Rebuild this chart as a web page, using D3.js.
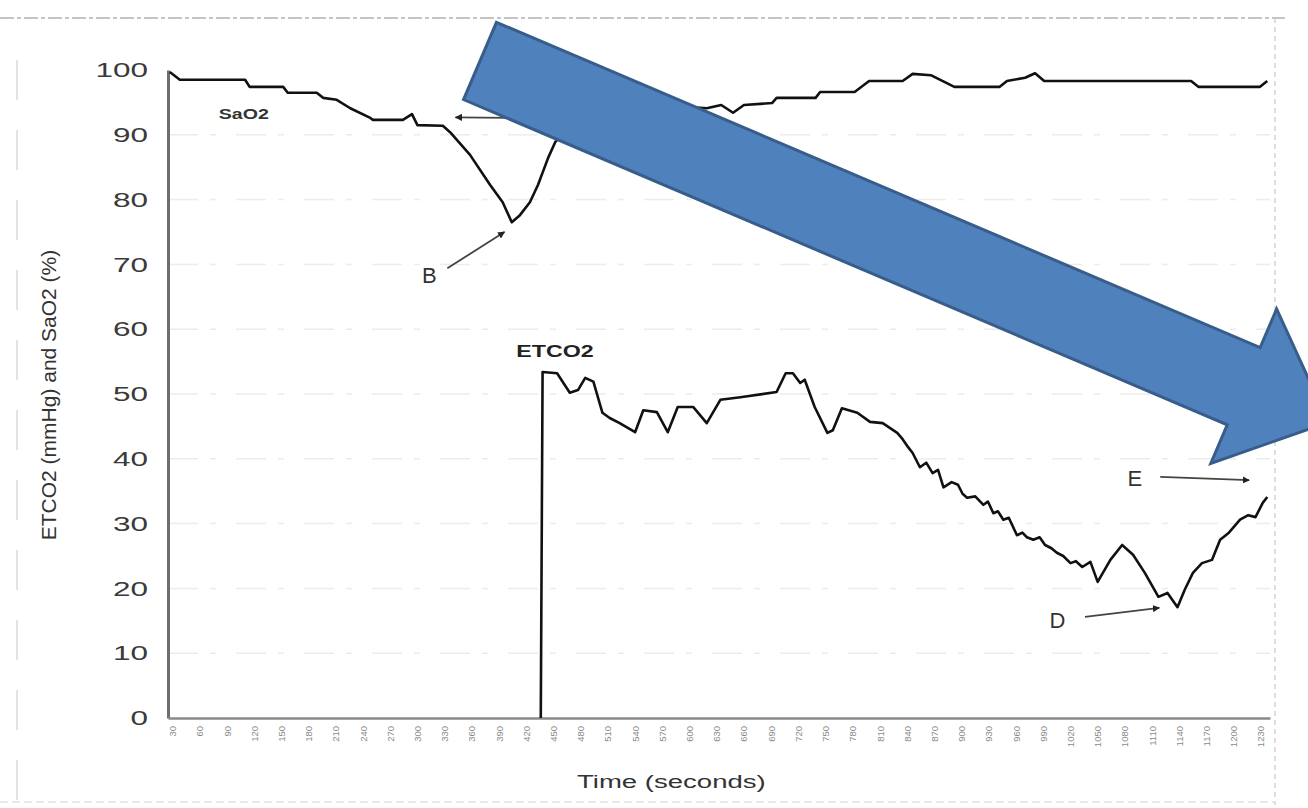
<!DOCTYPE html>
<html>
<head>
<meta charset="utf-8">
<script src="https://cdn.jsdelivr.net/npm/d3@7"></script>
<style>
  body { margin: 0; background: #ffffff; }
  svg { display: block; font-family: "Liberation Sans", Arial, sans-serif; }
</style>
</head>
<body>
<div id="chart"></div>
<script>
// time (s) on x, value on y
var saoTime = [27, 38, 110, 115, 152, 157, 189, 196, 211, 226, 248, 251, 284, 294, 300, 328, 336, 358, 380, 394, 404, 413, 424, 433, 444, 452, 463, 479, 512, 556, 600, 619, 635, 648, 660, 691, 696, 739, 744, 782, 798, 835, 846, 866, 892, 942, 950, 970, 981, 991, 1153, 1161, 1229, 1237];
var saoValue = [99.7, 98.5, 98.5, 97.4, 97.4, 96.5, 96.5, 95.7, 95.4, 94.1, 92.6, 92.3, 92.3, 93.2, 91.5, 91.4, 90.4, 86.9, 82.3, 79.6, 76.5, 77.6, 79.6, 82.3, 86.4, 88.9, 90.5, 92.5, 93.5, 94, 94.3, 94.1, 94.6, 93.4, 94.6, 94.9, 95.7, 95.7, 96.6, 96.6, 98.3, 98.3, 99.4, 99.2, 97.4, 97.4, 98.3, 98.8, 99.5, 98.3, 98.3, 97.4, 97.4, 98.3];

var etcoTime = [436, 438, 454, 468, 477, 485, 494, 504, 512, 523, 540, 549, 564, 576, 587, 604, 619, 634, 656, 696, 706, 714, 722, 727, 738, 752, 758, 768, 785, 799, 813, 829, 834, 841, 846, 854, 861, 868, 874, 880, 889, 896, 901, 906, 915, 924, 929, 935, 940, 946, 952, 961, 967, 972, 979, 986, 992, 999, 1005, 1012, 1020, 1026, 1033, 1042, 1050, 1064, 1077, 1089, 1102, 1117, 1127, 1138, 1146, 1155, 1165, 1176, 1185, 1194, 1207, 1216, 1224, 1232, 1237];
var etcoValue = [0, 53.4, 53.2, 50.2, 50.6, 52.5, 51.9, 47.1, 46.3, 45.5, 44.1, 47.5, 47.2, 44.1, 48.0, 48.0, 45.5, 49.1, 49.5, 50.3, 53.2, 53.2, 51.7, 52.2, 48.0, 44.0, 44.4, 47.8, 47.1, 45.7, 45.5, 44.0, 43.2, 41.8, 40.9, 38.7, 39.4, 37.8, 38.3, 35.6, 36.4, 36.0, 34.6, 34.0, 34.2, 32.9, 33.4, 31.6, 31.9, 30.6, 30.9, 28.2, 28.6, 27.9, 27.5, 27.9, 26.7, 26.2, 25.5, 25.0, 23.9, 24.2, 23.3, 24.1, 21.0, 24.4, 26.7, 25.2, 22.4, 18.7, 19.3, 17.1, 19.8, 22.4, 23.9, 24.4, 27.5, 28.5, 30.6, 31.3, 31.0, 33.2, 34.1];

var yTicks = [0, 10, 20, 30, 40, 50, 60, 70, 80, 90, 100];
var xTicks = [30, 60, 90, 120, 150, 180, 210, 240, 270, 300, 330, 360, 390, 420, 450, 480, 510, 540, 570, 600, 630, 660, 690, 720, 750, 780, 810, 840, 870, 900, 930, 960, 990, 1020, 1050, 1080, 1110, 1140, 1170, 1200, 1230];

// annotation letters: [label, text time, text value, arrow from time, value, arrow to time, value]
var notes = [
    ["B", 305, 67.1, 333, 69.4, 396, 75.0],
    ["D", 997, 13.9, 1036, 15.6, 1118, 17.0],
    ["E", 1083, 35.8, 1119, 37.2, 1217, 36.7],
    ["", 0, 0, 402, 92.6, 342, 92.7]
];

var margin = { top: 70, right: 38, bottom: 90, left: 168 },
    width = 1308 - margin.left - margin.right,
    height = 808 - margin.top - margin.bottom;

var x = d3.scaleLinear().domain([25, 1240]).range([0, width]);
var y = d3.scaleLinear().domain([0, 100]).range([height, 0]);

// the scanned source is stretched sideways
var stretch = 1.45;

var root = d3.select("#chart")
    .append("svg")
    .attr("width", 1308)
    .attr("height", 808);

root.append("defs").append("marker")
    .attr("id", "head")
    .attr("viewBox", "0 0 10 10")
    .attr("refX", 9)
    .attr("refY", 5)
    .attr("markerWidth", 4)
    .attr("markerHeight", 4)
    .attr("orient", "auto")
    .append("path")
    .attr("d", "M0,0 L10,5 L0,10 z")
    .attr("fill", "#222");

// faint scanned frame
root.append("line")
    .attr("x1", 0).attr("x2", 1285).attr("y1", 18).attr("y2", 18)
    .attr("stroke", "#c4c4c4").attr("stroke-width", 2)
    .attr("stroke-dasharray", "14,3,4,3");
root.append("line")
    .attr("x1", 1275).attr("x2", 1275).attr("y1", 18).attr("y2", 805)
    .attr("stroke", "#d4d4d4").attr("stroke-width", 1.5)
    .attr("stroke-dasharray", "5,4");
root.append("line")
    .attr("x1", 17).attr("x2", 17).attr("y1", 60).attr("y2", 805)
    .attr("stroke", "#dadada").attr("stroke-width", 1.5)
    .attr("stroke-dasharray", "40,30");
root.append("line")
    .attr("x1", 0).attr("x2", 1275).attr("y1", 802).attr("y2", 802)
    .attr("stroke", "#e2e2e2").attr("stroke-width", 1.5)
    .attr("stroke-dasharray", "8,4");

var svg = root.append("g")
    .attr("transform", "translate(" + margin.left + "," + margin.top + ")");

// faint gridlines
svg.selectAll(".grid")
    .data(yTicks.slice(1, 10))
    .enter()
    .append("line")
    .attr("class", "grid")
    .attr("x1", 0)
    .attr("x2", width)
    .attr("y1", function (d) { return y(d); })
    .attr("y2", function (d) { return y(d); })
    .attr("stroke", "#ececec")
    .attr("stroke-width", 1.5)
    .attr("stroke-dasharray", "30,12,6,20");

// axes
var yAxis = svg.append("g")
    .call(d3.axisLeft(y).tickValues(yTicks).tickSize(0).tickPadding(0));
yAxis.select(".domain").attr("stroke", "#6e6e6e").attr("stroke-width", 3);
yAxis.selectAll("text")
    .attr("x", -20 / 1.5)
    .attr("transform", "scale(1.5,1)")
    .style("font-size", "21px")
    .attr("fill", "#3a3a3a");

var xAxis = svg.append("g")
    .attr("transform", "translate(0," + height + ")")
    .call(d3.axisBottom(x).tickValues(xTicks).tickFormat(d3.format("d")).tickSize(0).tickPadding(0));
xAxis.select(".domain").attr("stroke", "#8a8a8a").attr("stroke-width", 2.5);
xAxis.selectAll("text")
    .attr("transform", "rotate(-90)")
    .attr("x", -8)
    .attr("y", 0)
    .attr("dy", "0.32em")
    .attr("text-anchor", "end")
    .style("font-size", "9.5px")
    .attr("fill", "#8a8a8a");

// axis titles
svg.append("text")
    .attr("transform", "rotate(-90)")
    .attr("x", -325)
    .attr("y", -112)
    .attr("text-anchor", "middle")
    .style("font-size", "21px")
    .attr("fill", "#333")
    .text("ETCO2 (mmHg) and SaO2 (%)");

svg.append("text")
    .attr("transform", "translate(" + x(580) + "," + (height + 70) + ") scale(" + stretch + ",1)")
    .attr("text-anchor", "middle")
    .style("font-size", "19px")
    .attr("fill", "#333")
    .text("Time (seconds)");

// series lines
var line = d3.line()
    .x(function (d) { return x(d[0]); })
    .y(function (d) { return y(d[1]); });

svg.append("path")
    .datum(d3.zip(saoTime, saoValue))
    .attr("fill", "none")
    .attr("stroke", "#111")
    .attr("stroke-width", 2.6)
    .attr("stroke-linejoin", "round")
    .attr("d", line);

svg.append("path")
    .datum(d3.zip(etcoTime, etcoValue))
    .attr("fill", "none")
    .attr("stroke", "#111")
    .attr("stroke-width", 2.6)
    .attr("stroke-linejoin", "round")
    .attr("d", line);

// series labels
svg.append("text")
    .attr("transform", "translate(" + x(81) + "," + y(92.4) + ") scale(1.4,1)")
    .style("font-size", "14px")
    .style("font-weight", "bold")
    .attr("fill", "#333")
    .text("SaO2");

svg.append("text")
    .attr("transform", "translate(" + x(409) + "," + y(55.7) + ") scale(1.45,1)")
    .style("font-size", "16px")
    .style("font-weight", "bold")
    .attr("fill", "#222")
    .text("ETCO2");

// annotation arrows
svg.selectAll(".note-line")
    .data(notes)
    .enter()
    .append("line")
    .attr("class", "note-line")
    .attr("x1", function (d) { return x(d[3]); })
    .attr("y1", function (d) { return y(d[4]); })
    .attr("x2", function (d) { return x(d[5]); })
    .attr("y2", function (d) { return y(d[6]); })
    .attr("stroke", "#444")
    .attr("stroke-width", 1.8)
    .attr("marker-end", "url(#head)");

svg.selectAll(".note-text")
    .data(notes)
    .enter()
    .append("text")
    .attr("class", "note-text")
    .attr("x", function (d) { return x(d[1]); })
    .attr("y", function (d) { return y(d[2]); })
    .style("font-size", "22px")
    .attr("fill", "#333")
    .text(function (d) { return d[0]; });

// big blue block arrow over the chart
var tail = [x(369), y(101.4)],
    base = [x(1211), y(51.2)];
var dx = base[0] - tail[0], dy = base[1] - tail[1];
var len = Math.sqrt(dx * dx + dy * dy);
var ux = dx / len, uy = dy / len, nx = -uy, ny = ux;
var sw = 42, hw = 84, hl = 92;
function pt(p, s) { return [p[0] + nx * s, p[1] + ny * s]; }
var tip = [base[0] + ux * hl, base[1] + uy * hl];
var arrowPts = [
    pt(tail, -sw), pt(base, -sw), pt(base, -hw), tip,
    pt(base, hw), pt(base, sw), pt(tail, sw)
];
svg.append("path")
    .attr("d", "M" + arrowPts.map(function (p) { return p[0] + "," + p[1]; }).join("L") + "Z")
    .attr("fill", "#4f81bd")
    .attr("stroke", "#385d8a")
    .attr("stroke-width", 3)
    .attr("stroke-linejoin", "miter");
</script>
</body>
</html>
